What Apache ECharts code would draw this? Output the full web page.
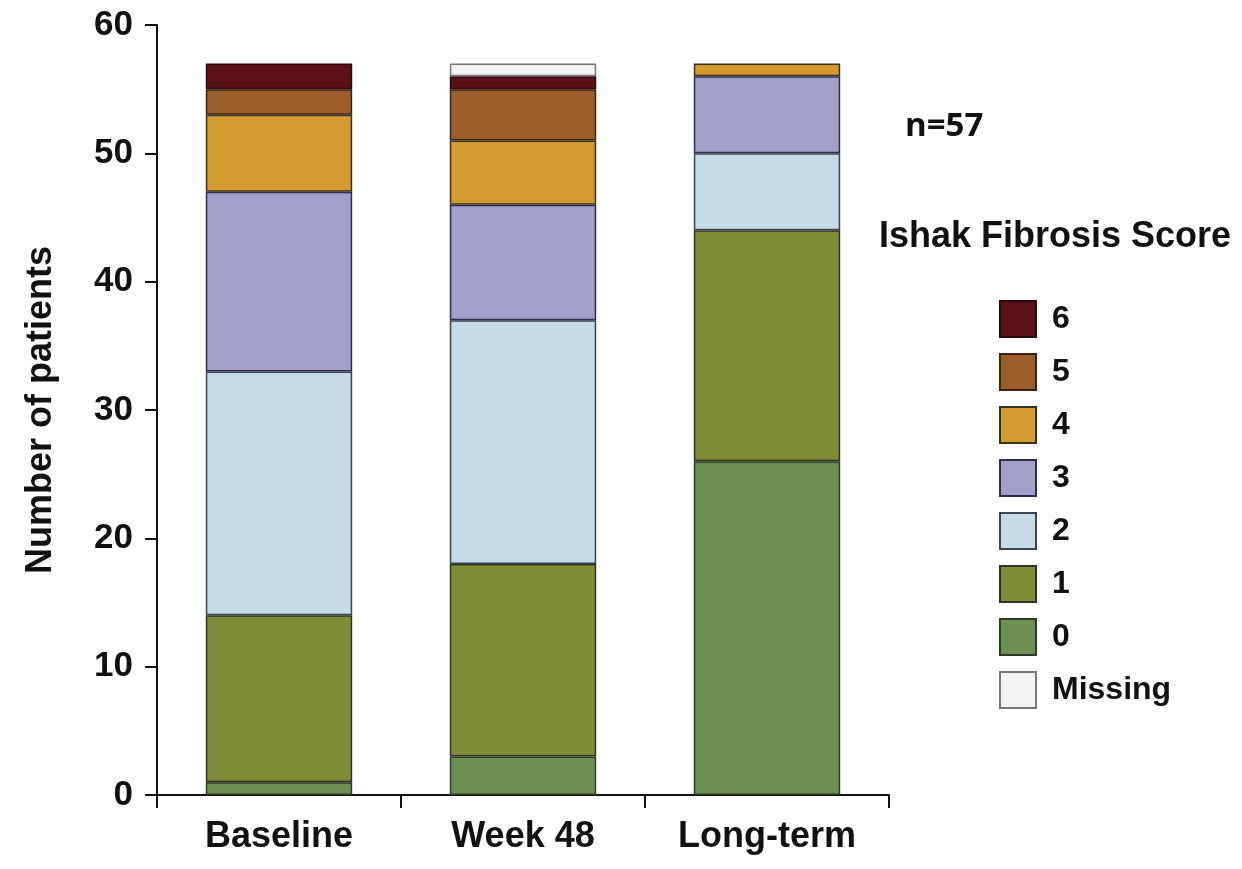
<!DOCTYPE html>
<html>
<head>
<meta charset="utf-8">
<script src="https://cdn.jsdelivr.net/npm/echarts@6/dist/echarts.min.js"></script>
<style>
html,body{margin:0;padding:0;background:#fff;}
#chart{width:1242px;height:869px;}
</style>
</head>
<body>
<div id="chart"></div>
<script>
var categories = ['Baseline', 'Week 48', 'Long-term'];
var score0 = [1, 3, 26];
var score1 = [13, 15, 18];
var score2 = [19, 19, 6];
var score3 = [14, 9, 6];
var score4 = [6, 5, 1];
var score5 = [2, 4, 0];
var score6 = [2, 1, 0];
var missing = [0, 1, 0];
var yTicks = [0, 10, 20, 30, 40, 50, 60];

var seriesDefs = [
  {name: '0', data: score0, color: '#6a9150', border: '#2f3a2a'},
  {name: '1', data: score1, color: '#7f8b35', border: '#2f3325'},
  {name: '2', data: score2, color: '#c6dbe8', border: '#3a4450'},
  {name: '3', data: score3, color: '#a3a1cc', border: '#2b2d4a'},
  {name: '4', data: score4, color: '#d69b2e', border: '#3a3020'},
  {name: '5', data: score5, color: '#9b5d2a', border: '#3a2515'},
  {name: '6', data: score6, color: '#5a1216', border: '#2a0a0a'},
  {name: 'Missing', data: missing, color: '#f3f3f3', border: '#777777'}
];

var chart = echarts.init(document.getElementById('chart'));
var fontMain = '"Liberation Sans", Arial, sans-serif';
var option = {
  animation: false,
  backgroundColor: '#ffffff',
  grid: {left: 157, right: 353, top: 25, bottom: 74, containLabel: false},
  xAxis: {
    type: 'category',
    data: categories,
    boundaryGap: true,
    axisLine: {show: true, lineStyle: {color: '#111', width: 2}},
    axisTick: {show: true, length: 13, inside: false, lineStyle: {color: '#111', width: 2}},
    axisLabel: {margin: 24, color: '#111', fontSize: 36, fontWeight: 'bold', fontFamily: fontMain}
  },
  yAxis: {
    type: 'value',
    min: yTicks[0],
    max: yTicks[yTicks.length - 1],
    interval: 10,
    name: 'Number of patients',
    nameLocation: 'middle',
    nameGap: 98,
    nameRotate: 90,
    nameTextStyle: {color: '#111', fontSize: 36, fontWeight: 'bold', fontFamily: fontMain},
    axisLine: {show: true, lineStyle: {color: '#111', width: 2}},
    axisTick: {show: true, length: 12, inside: false, lineStyle: {color: '#111', width: 2}},
    splitLine: {show: false},
    axisLabel: {margin: 24, color: '#111', fontSize: 35, fontWeight: 'bold', fontFamily: fontMain}
  },
  legend: {
    orient: 'vertical',
    left: 994,
    top: 295,
    itemWidth: 36,
    itemHeight: 36,
    itemGap: 15,
    icon: 'rect',
    data: ['6', '5', '4', '3', '2', '1', '0', 'Missing'],
    textStyle: {color: '#111', fontSize: 32, fontWeight: 'bold', fontFamily: fontMain, padding: [0, 0, 0, 11]}
  },
  graphic: [
    {type: 'text', left: 905, top: 110, style: {text: 'n=57', fill: '#111', font: 'bold 33px "Open Sans", sans-serif'}},
    {type: 'text', left: 879, top: 219, style: {text: 'Ishak Fibrosis Score', fill: '#111', font: 'bold 36px "Liberation Sans", Arial, sans-serif'}}
  ],
  series: seriesDefs.map(function (s) {
    return {
      name: s.name,
      type: 'bar',
      stack: 'total',
      barWidth: '60%',
      data: s.data.map(function (v) { return v === 0 ? '-' : v; }),
      itemStyle: {color: s.color, borderColor: s.border, borderWidth: 1.5},
      emphasis: {disabled: true}
    };
  })
};
chart.setOption(option);
</script>
</body>
</html>
